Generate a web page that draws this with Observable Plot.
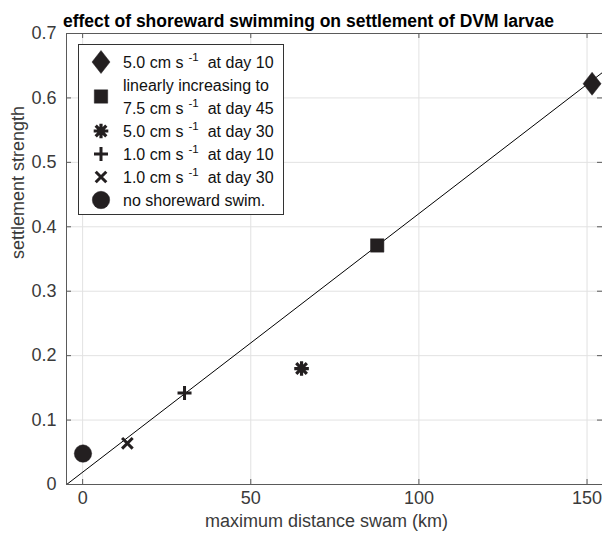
<!DOCTYPE html>
<html>
<head>
<meta charset="utf-8">
<script src="https://cdn.jsdelivr.net/npm/d3@7"></script>
<script src="https://cdn.jsdelivr.net/npm/@observablehq/plot@0.6"></script>
<style>
  body { margin: 0; background: #fff; }
  #chart svg { display: block; font-family: "Liberation Sans", Arial, Helvetica, sans-serif; }
</style>
</head>
<body>
<div id="chart"></div>
<script>
// Swimming scenarios and their outcomes
const markerKind = ["diamond", "square", "asterisk", "plus", "cross", "circle"];
const maxDistance = [151.5, 87.6, 65.1, 30.3, 13.3, 0.1];      // km
const settlement  = [0.622, 0.371, 0.180, 0.142, 0.064, 0.048];

// Least-squares line through the scenarios
const fitIntercept = 0.0191;
const fitSlope = 0.004013;
const fitXRange = [-5, 155];

// Axes
const xDomain = [-4.8, 154.6];
const yDomain = [0, 0.7];
const xTicks = [0, 50, 100, 150];
const yTicks = [0, 0.1, 0.2, 0.3, 0.4, 0.5, 0.6, 0.7];

const titleText = "effect of shoreward swimming on settlement of DVM larvae";
const xLabelText = "maximum distance swam (km)";
const yLabelText = "settlement strength";

// Legend entries: symbol, text, superscript, text after superscript
const legendKind = ["diamond", null, null, "asterisk", "plus", "cross", "circle"];
const legendPre  = ["5.0 cm s", "linearly increasing to", "7.5 cm s", "5.0 cm s", "1.0 cm s", "1.0 cm s", "no shoreward swim."];
const legendSup  = ["-1", "", "-1", "-1", "-1", "-1", ""];
const legendPost = ["at day 10", "", "at day 45", "at day 30", "at day 10", "at day 30", ""];

// Marker shapes (fixed pixel sizes)
const shapes = {
  diamond: { draw(c) { c.moveTo(0, -11.5); c.lineTo(9, 0); c.lineTo(0, 11.5); c.lineTo(-9, 0); c.closePath(); } },
  square:  { draw(c) { c.rect(-6.7, -6.7, 13.4, 13.4); } },
  circle:  { draw(c) { c.moveTo(8.7, 0); c.arc(0, 0, 8.7, 0, 2 * Math.PI); } },
  plus:    { draw(c) { c.moveTo(-7, 0); c.lineTo(7, 0); c.moveTo(0, -7); c.lineTo(0, 7); } },
  cross:   { draw(c) { c.moveTo(-5.3, -5.3); c.lineTo(5.3, 5.3); c.moveTo(-5.3, 5.3); c.lineTo(5.3, -5.3); } },
  asterisk:{ draw(c) {
    c.moveTo(-7.3, 0); c.lineTo(7.3, 0); c.moveTo(0, -7.3); c.lineTo(0, 7.3);
    c.moveTo(-5.3, -5.3); c.lineTo(5.3, 5.3); c.moveTo(-5.3, 5.3); c.lineTo(5.3, -5.3);
  } }
};
const filled = new Set(["diamond", "square", "circle"]);
const strokeW = {plus: 3, cross: 3, asterisk: 3.2};
const ink = "#231f20";

const W = 602, H = 539;
const mL = 66, mR = 0, mT = 33, mB = 55;
const fw = W - mL - mR, fh = H - mT - mB;
const axisColor = "#5a5a5a";
const gridColor = "#e2e2e2";
const labelColor = "#3a3a3a";

const points = maxDistance.map((x, i) => ({x, y: settlement[i], kind: markerKind[i]}));
const fitLine = fitXRange.map(x => ({x, y: fitIntercept + fitSlope * x}));

const dotMarks = points.map(p => Plot.dot([p], {
  x: "x", y: "y", r: 8,
  symbol: shapes[p.kind],
  fill: filled.has(p.kind) ? ink : "none",
  stroke: ink,
  strokeWidth: filled.has(p.kind) ? 0.5 : strokeW[p.kind]
}));

const chart = Plot.plot({
  width: W, height: H,
  marginLeft: mL, marginRight: mR, marginTop: mT, marginBottom: mB,
  x: {domain: xDomain},
  y: {domain: yDomain},
  style: {fontFamily: "Liberation Sans, Arial, sans-serif", fontSize: "18px", color: labelColor, background: "#fff"},
  marks: [
    Plot.gridX({ticks: xTicks, stroke: gridColor, strokeOpacity: 1}),
    Plot.gridY({ticks: yTicks, stroke: gridColor, strokeOpacity: 1}),
    // inward ticks on all four sides
    Plot.ruleX(xTicks, {stroke: axisColor, insetTop: fh - 5}),
    Plot.ruleX(xTicks, {stroke: axisColor, insetBottom: fh - 5}),
    Plot.ruleY(yTicks, {stroke: axisColor, insetRight: fw - 5}),
    Plot.ruleY(yTicks, {stroke: axisColor, insetLeft: fw - 5}),
    // box
    Plot.ruleX([xDomain[0]], {stroke: axisColor}),
    Plot.ruleY(yDomain, {stroke: axisColor}),
    Plot.axisX({ticks: xTicks, tickSize: 0, tickPadding: 7, label: null, fontSize: 18}),
    Plot.axisY({ticks: yTicks, tickSize: 0, tickPadding: 10, label: null, fontSize: 18, tickFormat: d => String(d)}),
    Plot.line(fitLine, {x: "x", y: "y", stroke: "#000", strokeWidth: 1, clip: true}),
    ...dotMarks,
    Plot.text([titleText], {frameAnchor: "top", dx: -26, dy: -19, fontWeight: "bold", fontSize: 17.5, fill: "#000"}),
    Plot.text([xLabelText], {frameAnchor: "bottom", dx: -8, dy: 42, fontSize: 18, fill: labelColor}),
    Plot.text([yLabelText], {frameAnchor: "left", dx: -48, rotate: -90, fontSize: 18, fill: labelColor})
  ]
});

// Legend box in the upper-left corner of the axes
const svg = d3.select(chart);
const lg = svg.append("g").attr("font-size", 16).attr("fill", "#111").attr("text-anchor", "start");
const box = {x: 78, y: 44, w: 205, h: 170};
lg.append("rect").attr("x", box.x + 0.5).attr("y", box.y + 0.5).attr("width", box.w).attr("height", box.h)
  .attr("fill", "#fff").attr("stroke", "#333").attr("stroke-width", 1);
const rowY = [62, 85, 108, 131, 154, 177, 200];
const symX = 101, textX = 123;
legendPre.forEach((pre, i) => {
  const t = lg.append("text").attr("x", textX).attr("y", rowY[i]).attr("dy", "0.35em");
  t.append("tspan").text(pre);
  if (legendSup[i]) {
    t.append("tspan").attr("dx", 5).attr("dy", -7).attr("font-size", 11.5).text(legendSup[i]);
    t.append("tspan").attr("dx", 9).attr("dy", 7).text(legendPost[i]);
  }
  const k = legendKind[i];
  if (k) {
    lg.append("path").attr("transform", `translate(${symX},${rowY[i]})`)
      .attr("d", d3.symbol(shapes[k], 64)())
      .attr("fill", filled.has(k) ? ink : "none").attr("stroke", ink)
      .attr("stroke-width", filled.has(k) ? 0.5 : strokeW[k]);
  }
});
// the square marker sits between its two text lines
lg.append("path").attr("transform", `translate(${symX},${(rowY[1] + rowY[2]) / 2})`)
  .attr("d", d3.symbol(shapes.square, 64)()).attr("fill", ink).attr("stroke", ink).attr("stroke-width", 0.5);

document.getElementById("chart").append(chart);
</script>
</body>
</html>
